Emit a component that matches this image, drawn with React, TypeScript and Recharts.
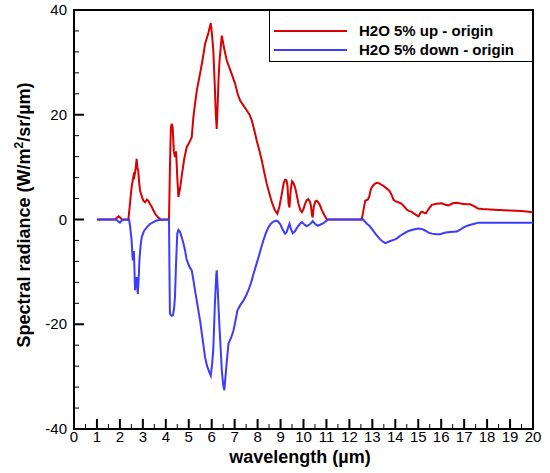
import React from "react";
import { LineChart, Line, XAxis, YAxis, ReferenceArea } from "recharts";

// ---- data ----
const redWavelength = [
  1.0, 1.8, 1.85, 1.95, 2.05, 2.1, 2.37, 2.45, 2.51, 2.56, 2.6, 2.63, 2.68, 2.73, 2.76, 2.8, 2.84, 2.88, 2.95,
  3.02, 3.1, 3.17, 3.24, 3.3, 3.38, 3.46, 3.55, 3.68, 3.8, 4.14, 4.18, 4.22, 4.26, 4.3, 4.35, 4.4, 4.45, 4.5,
  4.55, 4.62, 4.7, 4.8, 4.91, 5.0, 5.13, 5.2, 5.27, 5.35, 5.49, 5.57, 5.64, 5.71, 5.86, 5.96, 6.02, 6.07, 6.13,
  6.18, 6.22, 6.26, 6.3, 6.34, 6.44, 6.55, 6.66, 6.77, 6.87, 7.02, 7.13, 7.24, 7.38, 7.53, 7.65, 7.75, 7.86,
  7.96, 8.07, 8.18, 8.29, 8.4, 8.51, 8.62, 8.75, 8.86, 8.95, 9.05, 9.14, 9.2, 9.26, 9.3, 9.35, 9.39, 9.44, 9.5,
  9.56, 9.63, 9.7, 9.78, 9.86, 9.93, 10.0, 10.07, 10.14, 10.21, 10.28, 10.33, 10.37, 10.4, 10.45, 10.52, 10.58,
  10.69, 10.8, 10.9, 11.02, 12.54, 12.6, 12.69, 12.8, 12.86, 12.93, 12.98, 13.1, 13.2, 13.3, 13.41, 13.52, 13.63,
  13.72, 13.78, 13.85, 13.92, 14.0, 14.07, 14.18, 14.28, 14.4, 14.5, 14.6, 14.7, 14.79, 14.9, 15.01, 15.1, 15.16,
  15.25, 15.34, 15.45, 15.59, 15.8, 16.03, 16.18, 16.32, 16.5, 16.68, 16.9, 17.1, 17.26, 17.45, 17.6, 17.8,
  18.13, 18.5, 19.0, 19.5, 20.0,
];
const redRadiance = [
  0, 0, 0.3, 0.6, 0.2, 0, 0, 3.5, 6.2, 7.5, 8.5, 8.2, 9.5, 11.6, 10, 9.3, 7, 5.5, 4.5,
  3.6, 3.3, 3.8, 3.6, 3.0, 2.5, 1.7, 1.0, 0.3, 0, 0, 10, 17.5, 18.3, 17.5, 13, 11.9, 13, 8,
  4.3, 5.9, 8.5, 11.5, 13.8, 14.5, 15.7, 19.5, 22, 24.6, 27.8, 29.7, 31.5, 33.5, 35.7, 37.5, 35, 32.3, 26,
  20, 17.3, 22, 27, 30.3, 35.1, 32.5, 30.3, 29, 27.8, 25.9, 24, 22.7, 21.8, 20.8, 20, 18.9, 17,
  15.1, 13.3, 11.3, 9, 6.8, 5, 3.3, 1.8, 1.1, 2.5, 4.8, 7.0, 7.6, 7.5, 6.5, 3, 2.3, 5.5, 7.3,
  7.0, 6.2, 4.8, 3.0, 1.8, 1.4, 2.0, 3.0, 3.7, 3.9, 3.4, 2.5, 0.8, 0.4, 2.5, 3.5, 3.6,
  3.0, 1.8, 0.9, 0, 0, 1.5, 3.6, 3.8, 4.3, 5.7, 6.2, 6.8, 7.0, 6.9, 6.6, 6.3, 5.9,
  5.6, 5.2, 4.6, 3.8, 3.5, 3.4, 3.2, 3.0, 2.4, 1.9, 1.6, 1.5, 1.2, 0.9, 0.6, 1.3, 1.5,
  1.3, 1.2, 2.0, 2.8, 3.0, 3.1, 2.8, 2.7, 3.1, 3.2, 3.0, 2.9, 2.9, 2.5, 2.1, 2.0,
  1.9, 1.8, 1.7, 1.6, 1.4,
];

const blueWavelength = [
  1.0, 1.85, 1.9, 2.0, 2.1, 2.4, 2.45, 2.51, 2.56, 2.61, 2.66, 2.7, 2.73, 2.78, 2.82, 2.85, 2.9, 2.95, 3.05,
  3.17, 3.3, 3.46, 3.6, 3.75, 4.14, 4.16, 4.18, 4.25, 4.31, 4.36, 4.4, 4.45, 4.5, 4.55, 4.62, 4.7, 4.77, 4.84,
  4.9, 4.98, 5.05, 5.13, 5.2, 5.27, 5.35, 5.42, 5.5, 5.57, 5.64, 5.71, 5.8, 5.9, 5.96, 6.02, 6.07, 6.14, 6.2,
  6.22, 6.26, 6.3, 6.34, 6.4, 6.44, 6.5, 6.55, 6.6, 6.66, 6.73, 6.85, 6.95, 7.05, 7.12, 7.25, 7.38, 7.5, 7.6,
  7.72, 7.82, 7.93, 8.04, 8.15, 8.25, 8.36, 8.47, 8.58, 8.69, 8.8, 8.9, 9.0, 9.1, 9.2, 9.27, 9.33, 9.39, 9.45,
  9.53, 9.62, 9.7, 9.78, 9.85, 9.93, 10.03, 10.14, 10.21, 10.28, 10.35, 10.4, 10.5, 10.61, 10.72, 10.87, 10.98,
  11.09, 12.6, 12.76, 12.87, 12.98, 13.1, 13.2, 13.34, 13.45, 13.56, 13.68, 13.78, 13.99, 14.1, 14.21, 14.4,
  14.57, 14.8, 15.01, 15.15, 15.3, 15.45, 15.59, 15.8, 15.95, 16.2, 16.39, 16.68, 16.85, 16.97, 17.2, 17.45,
  17.63, 20.0,
];
const blueRadiance = [
  0, 0, -0.3, -0.6, -0.1, 0, -1.5, -4.0, -7.8, -6, -13.5, -12, -11, -14.2, -11, -7.8, -5, -3.4, -2.2,
  -1.5, -0.9, -0.5, -0.2, -0.1, 0, -10, -18, -18.4, -18.3, -17, -14.8, -8, -2.7, -2.0, -2.4, -3.5, -4.6, -5.9,
  -7.5, -8.5, -9.2, -9.7, -11.5, -13.5, -15.5, -17.4, -19.5, -21.8, -24, -26.3, -28, -29.2, -29.8, -27.5, -24.7, -16, -10.5,
  -9.7, -13, -17, -20.6, -25.5, -28.8, -31.5, -32.6, -30, -27, -23.7, -22.5, -21.2, -19, -17.4, -16.3, -15.5, -14.5, -13.5,
  -12, -10.4, -8.8, -7.2, -5.5, -4.0, -2.6, -1.5, -0.8, -0.4, -0.2, -0.4, -1.0, -2.0, -2.7, -2.4, -1.5, -0.8, -1.8,
  -2.6, -2.3, -1.7, -1.2, -0.8, -0.5, -0.9, -1.3, -1.1, -0.9, -0.6, -0.3, -0.8, -1.2, -1.0, -0.7, -0.3,
  0, 0, -0.8, -1.2, -1.8, -2.5, -3.1, -3.8, -4.2, -4.5, -4.3, -4.1, -3.8, -3.5, -3.1, -2.6,
  -2.2, -1.9, -1.7, -1.8, -2.1, -2.5, -2.7, -2.8, -2.8, -2.5, -2.4, -2.3, -1.9, -1.5, -1.1, -0.8,
  -0.6, -0.6,
];

const xTicks = Array.from({ length: 41 }, (_, i) => i * 0.5);
const xMajorTicks = Array.from({ length: 21 }, (_, i) => i);
const yTicks = Array.from({ length: 21 }, (_, i) => -40 + i * 4);
const yMajorTicks = [-40, -20, 0, 20, 40];

const seriesNames = ["H2O 5% up - origin", "H2O 5% down - origin"];
const seriesColors = ["#d80000", "#3c3cff"];

const redData = redWavelength.map((x, i) => ({ x, y: redRadiance[i] }));
const blueData = blueWavelength.map((x, i) => ({ x, y: blueRadiance[i] }));

const FONT = "'Liberation Sans', Arial, Helvetica, sans-serif";

const XTick = (props: any) => {
  const { x, y, payload } = props;
  const v = payload.value;
  const major = xMajorTicks.includes(v);
  return (
    <g>
      <line x1={x} x2={x} y1={y} y2={y - (major ? 10 : 5)} stroke="#000" strokeWidth={major ? 2 : 1} />
      {major && (
        <text x={x} y={y + 13} textAnchor="middle" fontFamily={FONT} fontSize={15} fill="#000">
          {v}
        </text>
      )}
    </g>
  );
};

const YTick = (props: any) => {
  const { x, y, payload } = props;
  const v = payload.value;
  const major = yMajorTicks.includes(v);
  return (
    <g>
      <line x1={x} x2={x + (major ? 10 : 5)} y1={y} y2={y} stroke="#000" strokeWidth={major ? 2 : 1} />
      {major && (
        <text x={x - 7} y={y + 5} textAnchor="end" fontFamily={FONT} fontSize={15} fill="#000">
          {v}
        </text>
      )}
    </g>
  );
};

const XTitle = () => (
  <text x={292} y={463} textAnchor="middle" fontFamily={FONT} fontWeight="bold" fontSize={18} fill="#000">
    wavelength (µm)
  </text>
);

const YTitle = () => (
  <text
    x={0}
    y={0}
    transform="translate(22,215) rotate(-90)"
    textAnchor="middle"
    fontFamily={FONT}
    fontWeight="bold"
    fontSize={18}
    fill="#000"
  >
    Spectral radiance (W/m
    <tspan dy={-7} fontSize={12}>2</tspan>
    <tspan dy={7}>/sr/µm)</tspan>
  </text>
);

export default function App() {
  return (
    <div style={{ position: "absolute", left: 8, top: 0, width: 534, height: 472 }}>
      <LineChart width={534} height={472} margin={{ top: 10, right: 9, left: 6, bottom: 0 }}>
        <XAxis
          type="number"
          dataKey="x"
          domain={[0, 20]}
          ticks={xTicks}
          interval={0}
          tick={<XTick />}
          tickLine={false}
          tickSize={0}
          tickMargin={0}
          height={43}
          axisLine={{ stroke: "#000", strokeWidth: 2 }}
          allowDataOverflow
          label={<XTitle />}
        />
        <YAxis
          type="number"
          domain={[-40, 40]}
          ticks={yTicks}
          interval={0}
          tick={<YTick />}
          tickLine={false}
          tickSize={0}
          tickMargin={0}
          width={60}
          axisLine={{ stroke: "#000", strokeWidth: 2 }}
          allowDataOverflow
          label={<YTitle />}
        />
        <ReferenceArea x1={0} x2={20} y1={-40} y2={40} fill="none" stroke="#000" strokeWidth={2} ifOverflow="visible" />
        <Line
          data={redData}
          dataKey="y"
          type="linear"
          stroke={seriesColors[0]}
          strokeWidth={2}
          dot={false}
          isAnimationActive={false}
        />
        <Line
          data={blueData}
          dataKey="y"
          type="linear"
          stroke={seriesColors[1]}
          strokeWidth={2}
          dot={false}
          isAnimationActive={false}
        />
      </LineChart>
      <div
        style={{
          position: "absolute",
          left: 261,
          top: 9,
          width: 265,
          height: 53,
          boxSizing: "border-box",
          background: "#fff",
          borderLeft: "1px solid #000",
          borderBottom: "1px solid #000",
          borderTop: "2px solid #000",
          borderRight: "2px solid #000",
        }}
      >
        <svg width={262} height={50} style={{ position: "absolute", left: 0, top: 0, overflow: "visible" }}>
          {seriesNames.map((name, i) => (
            <g key={name}>
              <line x1={4} x2={77} y1={20 + i * 19} y2={20 + i * 19} stroke={seriesColors[i]} strokeWidth={2} />
              <text x={89} y={25 + i * 19} fontFamily={FONT} fontWeight="bold" fontSize={15} fill="#000">
                {name}
              </text>
            </g>
          ))}
        </svg>
      </div>
    </div>
  );
}
